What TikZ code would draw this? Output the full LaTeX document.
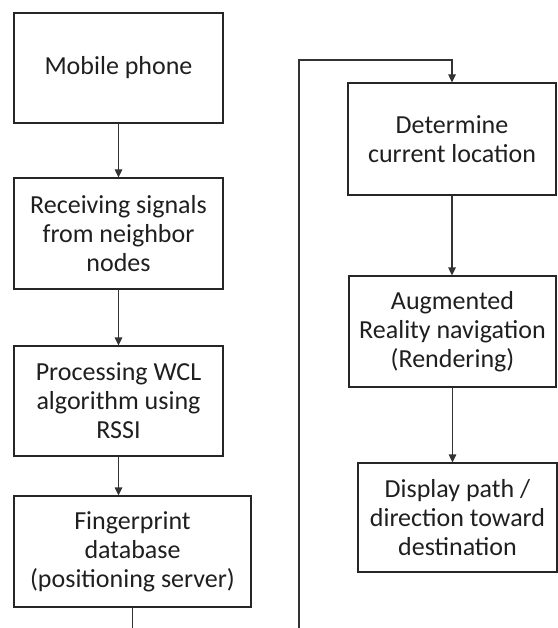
\documentclass[tikz,border=0pt]{standalone}
\usepackage{fontspec}
\setmainfont{Carlito}
\usetikzlibrary{arrows.meta}

\begin{document}
\begin{tikzpicture}[
  x=1pt, y=-1pt,
  line cap=round,
  every node/.style={font=\fontsize{26}{29}\selectfont,text=black!88},
  stepbox/.style={draw=black!85,line width=1.2pt,align=center,inner sep=0pt},
  wire/.style={draw=black!80,line width=1.2pt},
  link/.style={wire,-{Triangle[length=8pt,width=7.5pt]}}
]
  \useasboundingbox (0,0) rectangle (557,628);

  % left column
  \node[stepbox,minimum width=209pt,minimum height=110pt] (phone) at (118.5,68) {Mobile phone};
  \node[stepbox,minimum width=209pt,minimum height=111pt] (recv) at (118.5,233.5)
    {Receiving signals\\from neighbor\\nodes};
  \node[stepbox,minimum width=209pt,minimum height=110pt] (wcl) at (118.5,401)
    {Processing WCL\\algorithm using\\RSSI};
  \node[stepbox,minimum width=237pt,minimum height=111pt] (finger) at (132.5,551.5)
    {Fingerprint\\database\\(positioning server)};

  % right column
  \node[stepbox,minimum width=208pt,minimum height=112pt] (locate) at (452,139)
    {Determine\\current location};
  \node[stepbox,minimum width=207pt,minimum height=111pt] (render) at (452.5,331.5)
    {Augmented\\Reality navigation\\(Rendering)};
  \node[stepbox,minimum width=199pt,minimum height=109pt] (route) at (457.5,517.5)
    {Display path /\\direction toward\\destination};

  \coordinate (loopbot) at (299,628);
  \coordinate (looptop) at (299,60);

  \draw[link] (phone) -- (recv);
  \draw[link] (recv) -- (wcl);
  \draw[link] (wcl.south) -- (wcl.south |- finger.north);
  \draw[wire] (finger.south) -- (finger.south |- loopbot);
  \draw[link] (loopbot) -- (looptop) -| (locate.north);
  \draw[link] (locate.south) -- (locate.south |- render.north);
  \draw[link] (render.south) -- (render.south |- route.north);
\end{tikzpicture}
\end{document}
